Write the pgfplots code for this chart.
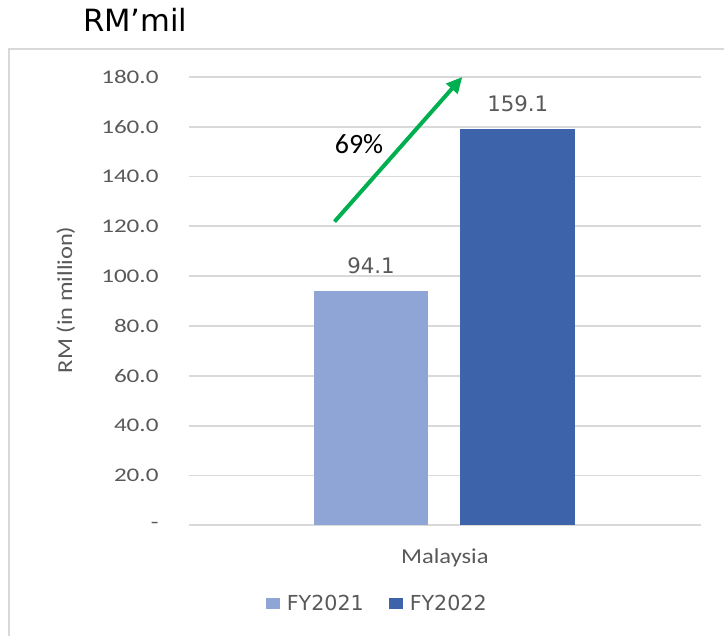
\documentclass[border=0pt]{standalone}
\usepackage{fontspec}
\setmainfont{DejaVu Sans}
\newfontfamily\tickfont[FakeStretch=1.3]{Carlito}
\newfontfamily\labfont[FakeStretch=1.15]{Carlito}
\newfontfamily\calfont{Carlito}
\usepackage{pgfplots}
\pgfplotsset{compat=1.18}
\usetikzlibrary{arrows.meta}

\definecolor{barA}{HTML}{8FA5D5}
\definecolor{barB}{HTML}{3D64AB}
\definecolor{txtgray}{HTML}{595959}
\definecolor{gridgray}{HTML}{D9D9D9}
\definecolor{arrowgreen}{HTML}{00B050}

\begin{document}
\begin{tikzpicture}
\begin{axis}[
    scale only axis,
    width=384.75pt, height=336.75pt,
    xmin=189, xmax=702,
    ymin=0, ymax=180,
    clip=false,
    axis line style={draw=none},
    tick style={draw=none},
    ymajorgrids,
    grid style={gridgray, line width=1.3pt},
    ytick={0,20,...,180},
    yticklabels={-\hspace{9.75pt},20.0,40.0,60.0,80.0,100.0,120.0,140.0,160.0,180.0},
    yticklabel style={font=\tickfont\fontsize{14.5pt}{17pt}\selectfont, text=txtgray,
        anchor=east, inner sep=0pt, xshift=-22.5pt},
    xtick={445.5},
    xticklabels={Malaysia},
    xticklabel style={font=\labfont\fontsize{16pt}{19pt}\selectfont, text=txtgray,
        anchor=base, inner sep=0pt, yshift=-24.75pt},
    ylabel={RM (in million)},
    ylabel style={font=\labfont\fontsize{16pt}{19pt}\selectfont, text=txtgray,
        at={(axis description cs:-0.2398,0.503)}, anchor=center, inner sep=0pt},
    ybar,
    bar width=115,
    nodes near coords,
    nodes near coords style={font=\fontsize{16pt}{19pt}\selectfont, text=txtgray,
        anchor=base, inner sep=0pt, yshift=12.75pt,
        /pgf/number format/.cd, fixed, fixed zerofill, precision=1, assume math mode=true},
    legend columns=2,
    legend style={at={(axis description cs:0.150,-0.1748)}, anchor=west,
        draw=none, fill=none, inner sep=0pt,
        font=\fontsize{15.5pt}{18pt}\selectfont, text=txtgray,
        nodes={inner sep=0pt},
        /tikz/every odd column/.append style={column sep=5.25pt},
        /tikz/every even column/.append style={column sep=18.75pt}},
    legend image code/.code={\fill[#1,draw=none] (0pt,-4.25pt) rectangle (10.5pt,4.25pt);},
]
\addplot[fill=barA, draw=none, bar shift=0pt] coordinates {(371.5,94.1)};
\addplot[fill=barB, draw=none, bar shift=0pt] coordinates {(518.5,159.1)};
\legend{FY2021,FY2022}

% growth arrow and label
\draw[arrowgreen, line width=3pt, -{Triangle[length=12pt,width=11pt]}]
    (axis cs:335,121.9) -- (axis cs:463,180);
\node[font=\calfont\fontsize{21pt}{25pt}\selectfont, inner sep=0pt]
    at (axis cs:359.5,152.9) {69\%};

% chart frame and title
\draw[gridgray, line width=1.5pt]
    (rel axis cs:-0.3509,-0.2472) -- (rel axis cs:-0.3509,1.0624) -- (rel axis cs:1.0448,1.0624);
\node[font=\fontsize{23pt}{27pt}\selectfont, anchor=base, inner sep=0pt]
    at (rel axis cs:-0.1043,1.1002) {RM’mil};
\path (rel axis cs:-0.3684,-0.2472) rectangle (rel axis cs:1.0448,1.1715);
\end{axis}
\end{tikzpicture}
\end{document}
